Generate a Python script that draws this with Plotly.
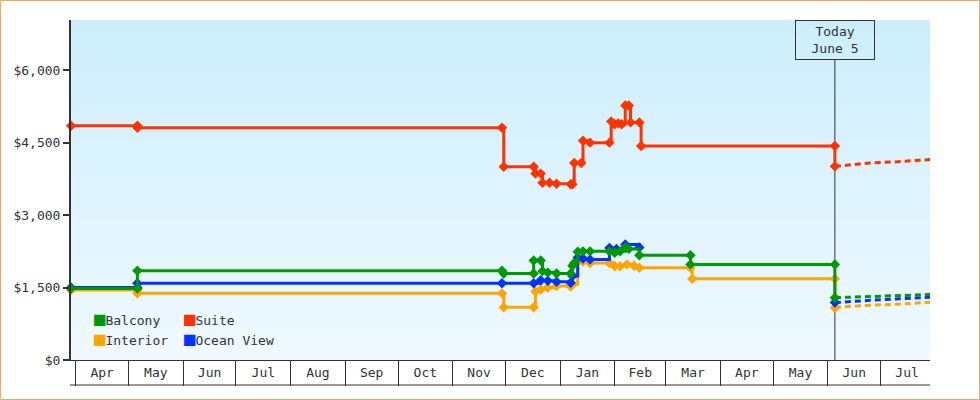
import base64
import struct
import zlib
import plotly.graph_objects as go

# ---------------- data ----------------
balcony_dates = ["2023-03-29 08:00", "2023-05-06", "2023-05-06", "2023-11-29", "2023-11-30",
                 "2023-12-17", "2023-12-17", "2023-12-21", "2023-12-22", "2023-12-25", "2023-12-30",
                 "2024-01-07", "2024-01-08", "2024-01-09", "2024-01-11", "2024-01-14", "2024-01-18",
                 "2024-01-29", "2024-02-01", "2024-02-04", "2024-02-07", "2024-02-09", "2024-02-15",
                 "2024-03-15", "2024-03-15", "2024-06-05", "2024-06-05"]
balcony_prices = [1480, 1480, 1850, 1850, 1790,
                  1790, 2060, 2060, 1840, 1810, 1790,
                  1790, 1950, 2010, 2240, 2250, 2250,
                  2250, 2220, 2250, 2330, 2300, 2170,
                  2170, 1980, 1980, 1290]

interior_dates = ["2023-03-29 08:00", "2023-05-06", "2023-05-06", "2023-11-29", "2023-11-30",
                  "2023-12-17", "2023-12-18", "2023-12-21", "2023-12-25", "2023-12-30",
                  "2024-01-07", "2024-01-08", "2024-01-11", "2024-01-14", "2024-01-18",
                  "2024-01-29", "2024-02-01", "2024-02-04", "2024-02-08", "2024-02-12", "2024-02-15",
                  "2024-03-15", "2024-03-16", "2024-06-05", "2024-06-05"]
interior_prices = [1450, 1450, 1380, 1380, 1090,
                   1090, 1420, 1460, 1500, 1530,
                   1520, 1570, 2050, 2040, 2010,
                   2010, 1940, 1940, 1980, 1950, 1910,
                   1910, 1680, 1680, 1080]

ocean_dates = ["2023-03-29 08:00", "2023-05-06", "2023-05-06", "2023-11-29", "2023-12-17",
               "2023-12-21", "2023-12-25", "2023-12-30", "2024-01-07", "2024-01-08",
               "2024-01-11", "2024-01-14", "2024-01-18", "2024-01-29", "2024-02-02",
               "2024-02-07", "2024-02-15", "2024-02-16", "2024-06-05"]
ocean_prices = [1500, 1500, 1590, 1590, 1590,
                1650, 1640, 1620, 1600, 1740,
                2120, 2100, 2080, 2320, 2300,
                2390, 2330, None, 1190]

suite_dates = ["2023-03-29 08:00", "2023-05-06", "2023-05-06", "2023-11-29", "2023-11-30",
               "2023-12-17", "2023-12-18", "2023-12-21", "2023-12-22", "2023-12-26", "2023-12-30",
               "2024-01-07", "2024-01-08", "2024-01-09", "2024-01-13", "2024-01-14", "2024-01-18",
               "2024-01-29", "2024-01-30", "2024-02-01", "2024-02-03", "2024-02-05", "2024-02-07",
               "2024-02-09", "2024-02-10", "2024-02-15", "2024-02-16", "2024-06-05", "2024-06-05"]
suite_prices = [4850, 4850, 4810, 4810, 4000,
                4000, 3860, 3860, 3670, 3670, 3650,
                3640, 3640, 4080, 4080, 4540, 4500,
                4500, 4940, 4880, 4900, 4880, 5270,
                5270, 4920, 4920, 4430, 4430, 4010]

# projections after today
proj_dates = ["2024-06-05", "2024-06-12", "2024-06-25", "2024-07-08", "2024-07-18", "2024-07-29"]
balcony_proj = [1290, 1300, 1310, 1330, 1345, 1355]
interior_proj = [1090, 1110, 1135, 1150, 1175, 1195]
ocean_proj = [1190, 1210, 1235, 1260, 1285, 1300]
suite_proj = [4010, 4040, 4080, 4100, 4125, 4150]

legend_names = ["Balcony", "Suite", "Interior", "Ocean View"]
y_ticks = [0, 1500, 3000, 4500, 6000]
today = "2024-06-05"
x_range = ["2023-03-29 08:00", "2024-07-29"]

# ---------------- styling ----------------
COL = {"Balcony": "#009900", "Suite": "#ff3300", "Interior": "#ffa500", "Ocean View": "#0033ff"}
FONT = "DejaVu Sans Mono"
TXT = "#333333"

W, H = 980, 400
ML, MR, MT, MB = 71, 50, 20, 40
PW, PH = W - ML - MR, H - MT - MB


def gradient_png(top, bottom, h):
    rows = b""
    for i in range(h):
        t = i / (h - 1)
        rows += b"\x00" + bytes(round(top[k] + (bottom[k] - top[k]) * t) for k in range(3))

    def chunk(tag, data):
        return struct.pack(">I", len(data)) + tag + data + struct.pack(">I", zlib.crc32(tag + data) & 0xFFFFFFFF)

    png = (b"\x89PNG\r\n\x1a\n"
           + chunk(b"IHDR", struct.pack(">IIBBBBB", 1, h, 8, 2, 0, 0, 0))
           + chunk(b"IDAT", zlib.compress(rows))
           + chunk(b"IEND", b""))
    return "data:image/png;base64," + base64.b64encode(png).decode()


fig = go.Figure()

series = [("Interior", interior_dates, interior_prices),
          ("Ocean View", ocean_dates, ocean_prices),
          ("Balcony", balcony_dates, balcony_prices),
          ("Suite", suite_dates, suite_prices)]
projs = [("Interior", interior_proj), ("Ocean View", ocean_proj),
         ("Balcony", balcony_proj), ("Suite", suite_proj)]

for name, pv in projs:
    fig.add_trace(go.Scatter(x=proj_dates, y=pv, mode="lines", showlegend=False,
                             line=dict(color=COL[name], width=3, dash="6px,4px"),
                             hoverinfo="skip", cliponaxis=False))

for name, xs, ys in series:
    fig.add_trace(go.Scatter(x=xs, y=ys, mode="lines+markers", showlegend=False, name=name,
                             line=dict(color=COL[name], width=3, shape="hv"),
                             marker=dict(symbol="diamond", size=8, color=COL[name]),
                             connectgaps=False, cliponaxis=False))

# legend entries: the coloured swatch is a square glyph in the entry text
legend_keys = ["legend", "legend2", "legend3", "legend4"]
for name, key in zip(legend_names, legend_keys):
    label = '<span style="color:%s;font-size:19px">■</span>%s' % (COL[name], name)
    fig.add_trace(go.Scatter(x=[None], y=[None], mode="markers", name=label,
                             marker=dict(symbol="square", size=1, color="rgba(0,0,0,0)",
                                         line=dict(width=0, color="rgba(0,0,0,0)")),
                             legend=key))

leg_common = dict(bgcolor="rgba(0,0,0,0)", font=dict(family=FONT, size=13, color=TXT),
                  xanchor="left", yanchor="middle", itemclick=False)
# legend column / row pixel positions (left edge of entry, row centre)
leg_pos = {"legend": (54, 320), "legend2": (144, 320), "legend3": (54, 340), "legend4": (144, 340)}
legends = {k: dict(x=(px - ML) / PW, y=(360 - py) / PH, **leg_common) for k, (px, py) in leg_pos.items()}

fig.update_layout(
    width=W, height=H,
    margin=dict(l=ML, r=MR, t=MT, b=MB, pad=0),
    paper_bgcolor="white", plot_bgcolor="white",
    font=dict(family=FONT, size=13, color=TXT),
    showlegend=True,
    **legends,
    xaxis=dict(type="date", range=x_range, dtick="M1", tick0="2023-04-01",
               ticklabelmode="period", tickformat="%b", ticks="outside", ticklen=25,
               tickwidth=1, tickcolor=TXT, ticklabelstandoff=-25,
               showline=True, linecolor=TXT, linewidth=1, showgrid=False, zeroline=False,
               tickfont=dict(family=FONT, size=13, color=TXT)),
    yaxis=dict(range=[0, 7040], tickvals=y_ticks, tickformat="$,", ticks="outside",
               ticklen=6, tickwidth=2, tickcolor=TXT, showline=True, linecolor=TXT,
               linewidth=2, showgrid=False, zeroline=False,
               tickfont=dict(family=FONT, size=13, color=TXT)),
    images=[dict(source=gradient_png((204, 238, 252), (240, 249, 255), PH),
                 xref="paper", yref="paper", x=0, y=1, sizex=1, sizey=1,
                 xanchor="left", yanchor="top", sizing="stretch", layer="below")],
    shapes=[
        dict(type="line", xref="x", yref="paper", x0=today, x1=today, y0=0, y1=1 - 40 / PH,
             line=dict(color=TXT, width=1), layer="below"),
        dict(type="line", xref="paper", yref="paper", x0=(70 - ML) / PW, x1=1,
             y0=-25 / PH, y1=-25 / PH, line=dict(color=TXT, width=1)),
        dict(type="rect", xref="paper", yref="paper", x0=(0.5 - ML) / PW, x1=(979.5 - ML) / PW,
             y0=(360 - 399.5) / PH, y1=(360 - 0.5) / PH, line=dict(color="#e9a866", width=1),
             fillcolor="rgba(0,0,0,0)"),
    ],
    annotations=[dict(x=today, xref="x", y=1, yref="paper", yanchor="top", xanchor="center",
                      text="Today<br>June 5", showarrow=False, align="center",
                      font=dict(family=FONT, size=13, color=TXT),
                      bordercolor=TXT, borderwidth=1, borderpad=3, width=72, height=32,
                      bgcolor="rgba(0,0,0,0)")],
)

fig.write_html("out.html")
